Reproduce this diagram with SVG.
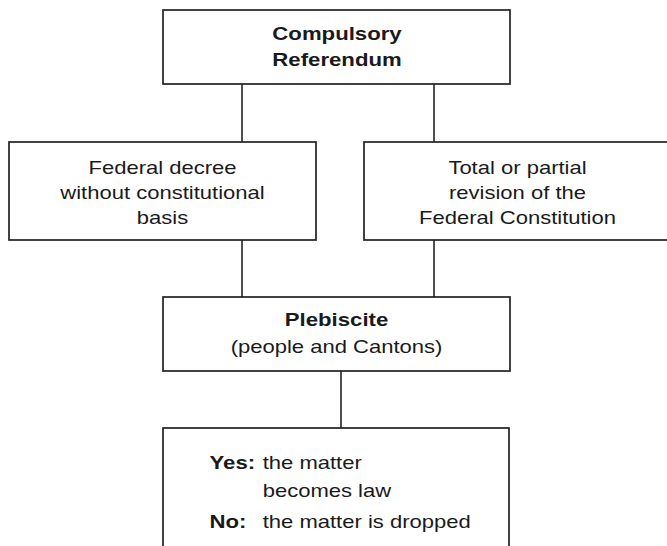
<svg xmlns="http://www.w3.org/2000/svg" width="667" height="546" viewBox="0 0 667 546">
  <style>
    .box { fill: #ffffff; stroke: #222222; stroke-width: 1.7; }
    .conn { stroke: #222222; stroke-width: 1.6; fill: none; }
    text { font-family: "Liberation Sans", Arial, Helvetica, sans-serif; fill: #1a1a1a; }
    .r { font-size: 18.5px; }
    .b { font-size: 18.8px; font-weight: bold; }
    .c { text-anchor: middle; }
  </style>
  <rect x="0" y="0" width="667" height="546" fill="#ffffff"/>
  <g id="connectors">
    <line class="conn" x1="242" y1="84" x2="242" y2="142"/>
    <line class="conn" x1="434" y1="84" x2="434" y2="142"/>
    <line class="conn" x1="242" y1="240" x2="242" y2="297"/>
    <line class="conn" x1="434" y1="240" x2="434" y2="297"/>
    <line class="conn" x1="341" y1="371" x2="341" y2="428"/>
  </g>
  <g id="compulsory-referendum">
    <rect class="box" x="163" y="10" width="347" height="74"/>
    <g transform="translate(337 0) scale(1.18 1)">
      <text class="b c" x="0" y="40">Compulsory</text>
      <text class="b c" x="0" y="66">Referendum</text>
    </g>
  </g>
  <g id="federal-decree">
    <rect class="box" x="9" y="142" width="307" height="98"/>
    <g transform="translate(162.5 0) scale(1.19 1)">
      <text class="r c" x="0" y="174">Federal decree</text>
      <text class="r c" x="0" y="199.5">without constitutional</text>
      <text class="r c" x="0" y="224.5">basis</text>
    </g>
  </g>
  <g id="constitution-revision">
    <rect class="box" x="364" y="142" width="310" height="98"/>
    <g transform="translate(517.5 0) scale(1.19 1)">
      <text class="r c" x="0" y="174">Total or partial</text>
      <text class="r c" x="0" y="199.5">revision of the</text>
      <text class="r c" x="0" y="224.5">Federal Constitution</text>
    </g>
  </g>
  <g id="plebiscite">
    <rect class="box" x="163" y="297" width="347" height="74"/>
    <g transform="translate(336.5 0) scale(1.18 1)">
      <text class="b c" x="0" y="326">Plebiscite</text>
    </g>
    <g transform="translate(336.5 0) scale(1.19 1)">
      <text class="r c" x="0" y="353">(people and Cantons)</text>
    </g>
  </g>
  <g id="outcome">
    <rect class="box" x="163" y="428" width="346" height="140"/>
    <g transform="translate(209.5 0) scale(1.18 1)">
      <text class="b" x="0" y="469">Yes:</text>
      <text class="b" x="0" y="528">No:</text>
    </g>
    <g transform="translate(262.7 0) scale(1.19 1)">
      <text class="r" x="0" y="469">the matter</text>
      <text class="r" x="0" y="497">becomes law</text>
      <text class="r" x="0" y="528">the matter is dropped</text>
    </g>
  </g>
</svg>
